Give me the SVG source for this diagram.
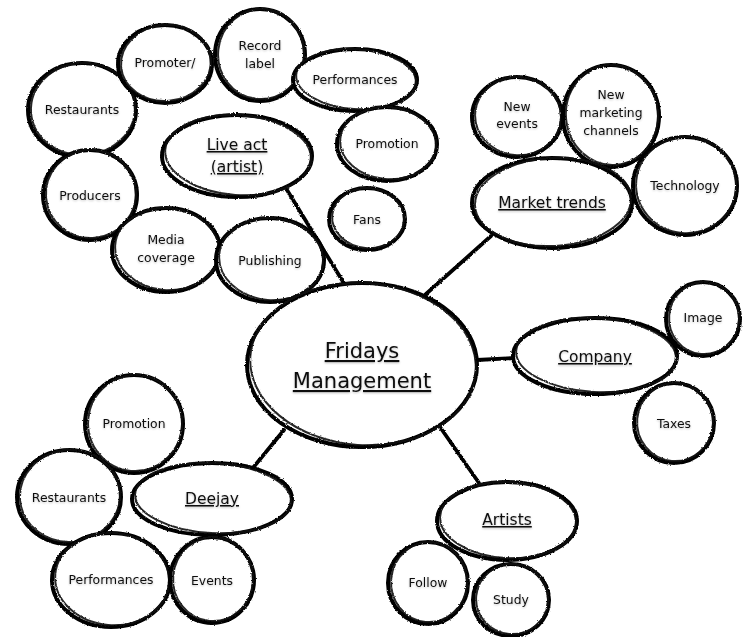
<svg xmlns="http://www.w3.org/2000/svg" width="749" height="637" viewBox="0 0 749 637">
<defs>
<filter id="rough" x="-10%" y="-10%" width="120%" height="120%">
<feTurbulence type="fractalNoise" baseFrequency="0.6" numOctaves="2" seed="3" result="n"/>
<feDisplacementMap in="SourceGraphic" in2="n" scale="2.4" xChannelSelector="R" yChannelSelector="G"/>
</filter>
<filter id="shadow" x="-10%" y="-30%" width="120%" height="160%">
<feGaussianBlur in="SourceAlpha" stdDeviation="1.2" result="b"/>
<feOffset in="b" dx="0" dy="1" result="o"/>
<feComponentTransfer in="o" result="s"><feFuncA type="linear" slope="0.25"/></feComponentTransfer>
<feMerge><feMergeNode in="s"/><feMergeNode in="SourceGraphic"/></feMerge>
</filter>
</defs>
<style>
.o{fill:#fff;stroke:#000;stroke-width:4}
.o2{fill:none;stroke:#111;stroke-width:2;opacity:.9}
.sk{filter:url(#rough)}
.t{font-family:"DejaVu Sans","Liberation Sans",sans-serif;font-size:12.4px;fill:#111;text-anchor:middle;filter:url(#shadow)}
.h{font-family:"DejaVu Sans","Liberation Sans",sans-serif;font-size:15.5px;fill:#111;text-anchor:middle;text-decoration:underline;filter:url(#shadow)}
.big{font-size:21px}
.c{stroke:#000;stroke-width:3.8;stroke-linecap:round;fill:none}
</style>
<rect width="749" height="637" fill="#fff"/>
<g id="connectors" class="sk">
<path class="c" d="M287 190 L345 285"/>
<path class="c" d="M491 236 L426 294"/>
<path class="c" d="M477 360 L516 358"/>
<path class="c" d="M284 430 L252 469"/>
<path class="c" d="M440 427 L479 483"/>
</g>
<g id="restaurants1"><g class="sk"><ellipse class="o" cx="82" cy="110" rx="54" ry="47"/><ellipse class="o2" cx="83" cy="109" rx="52" ry="46" transform="rotate(-4 82 110)"/></g><text class="t" x="82" y="114">Restaurants</text></g>
<g id="promoter"><g class="sk"><ellipse class="o" cx="165" cy="64" rx="47" ry="39"/><ellipse class="o2" cx="166" cy="63" rx="45" ry="38" transform="rotate(-5 165 64)"/></g><text class="t" x="165" y="67">Promoter/</text></g>
<g id="recordlabel"><g class="sk"><ellipse class="o" cx="260" cy="55" rx="45" ry="46"/><ellipse class="o2" cx="261" cy="54" rx="43" ry="45" transform="rotate(6 260 55)"/></g><text class="t" x="260" y="50">Record</text><text class="t" x="260" y="68">label</text></g>
<g id="performances1"><g class="sk"><ellipse class="o" cx="355" cy="80" rx="62" ry="31"/><ellipse class="o2" cx="356" cy="79" rx="60" ry="30" transform="rotate(4 355 80)"/></g><text class="t" x="355" y="84">Performances</text></g>
<g id="promotion1"><g class="sk"><ellipse class="o" cx="387" cy="144" rx="50" ry="37"/><ellipse class="o2" cx="388" cy="143" rx="48" ry="36" transform="rotate(5 387 144)"/></g><text class="t" x="387" y="148">Promotion</text></g>
<g id="liveact"><g class="sk"><ellipse class="o" cx="237" cy="156" rx="75" ry="41"/><ellipse class="o2" cx="238" cy="155" rx="73" ry="40" transform="rotate(4 237 156)"/></g><text class="h" x="237" y="150">Live act</text><text class="h" x="237" y="172">(artist)</text></g>
<g id="producers"><g class="sk"><ellipse class="o" cx="90" cy="195" rx="47" ry="45"/><ellipse class="o2" cx="91" cy="194" rx="45" ry="44" transform="rotate(-5 90 195)"/></g><text class="t" x="90" y="200">Producers</text></g>
<g id="fans"><g class="sk"><ellipse class="o" cx="367" cy="219" rx="38" ry="31"/><ellipse class="o2" cx="368" cy="218" rx="36" ry="30" transform="rotate(5 367 219)"/></g><text class="t" x="367" y="224">Fans</text></g>
<g id="mediacoverage"><g class="sk"><ellipse class="o" cx="166" cy="250" rx="54" ry="42"/><ellipse class="o2" cx="167" cy="249" rx="52" ry="41" transform="rotate(5 166 250)"/></g><text class="t" x="166" y="244">Media</text><text class="t" x="166" y="262">coverage</text></g>
<g id="publishing"><g class="sk"><ellipse class="o" cx="270" cy="260" rx="54" ry="42"/><ellipse class="o2" cx="271" cy="259" rx="52" ry="41" transform="rotate(5 270 260)"/></g><text class="t" x="270" y="265">Publishing</text></g>
<g id="newevents"><g class="sk"><ellipse class="o" cx="517" cy="117" rx="45" ry="40"/><ellipse class="o2" cx="518" cy="116" rx="43" ry="39" transform="rotate(5 517 117)"/></g><text class="t" x="517" y="111">New</text><text class="t" x="517" y="128">events</text></g>
<g id="newmarketing"><g class="sk"><ellipse class="o" cx="611" cy="116" rx="48" ry="51"/><ellipse class="o2" cx="612" cy="115" rx="46" ry="50" transform="rotate(-5 611 116)"/></g><text class="t" x="611" y="99">New</text><text class="t" x="611" y="117">marketing</text><text class="t" x="611" y="135">channels</text></g>
<g id="technology"><g class="sk"><ellipse class="o" cx="685" cy="186" rx="52" ry="49"/><ellipse class="o2" cx="686" cy="185" rx="50" ry="48" transform="rotate(5 685 186)"/></g><text class="t" x="685" y="190">Technology</text></g>
<g id="markettrends"><g class="sk"><ellipse class="o" cx="552" cy="203" rx="80" ry="45"/><ellipse class="o2" cx="553" cy="202" rx="78" ry="44" transform="rotate(-3 552 203)"/></g><text class="h" x="552" y="208">Market trends</text></g>
<g id="fridays"><g class="sk"><ellipse class="o" cx="362" cy="365" rx="115" ry="82"/><ellipse class="o2" cx="363" cy="364" rx="113" ry="81" transform="rotate(4 362 365)"/></g><text class="h big" x="362" y="358">Fridays</text><text class="h big" x="362" y="388">Management</text></g>
<g id="company"><g class="sk"><ellipse class="o" cx="595" cy="356" rx="82" ry="38"/><ellipse class="o2" cx="596" cy="355" rx="80" ry="37" transform="rotate(3 595 356)"/></g><text class="h" x="595" y="362">Company</text></g>
<g id="image"><g class="sk"><ellipse class="o" cx="703" cy="319" rx="37" ry="37"/><ellipse class="o2" cx="704" cy="318" rx="35" ry="36" transform="rotate(5 703 319)"/></g><text class="t" x="703" y="322">Image</text></g>
<g id="taxes"><g class="sk"><ellipse class="o" cx="674" cy="423" rx="40" ry="40"/><ellipse class="o2" cx="675" cy="422" rx="38" ry="39" transform="rotate(5 674 423)"/></g><text class="t" x="674" y="428">Taxes</text></g>
<g id="promotion2"><g class="sk"><ellipse class="o" cx="134" cy="424" rx="49" ry="49"/><ellipse class="o2" cx="135" cy="423" rx="47" ry="48" transform="rotate(5 134 424)"/></g><text class="t" x="134" y="428">Promotion</text></g>
<g id="restaurants2"><g class="sk"><ellipse class="o" cx="69" cy="497" rx="52" ry="47"/><ellipse class="o2" cx="70" cy="496" rx="50" ry="46" transform="rotate(-5 69 497)"/></g><text class="t" x="69" y="502">Restaurants</text></g>
<g id="deejay"><g class="sk"><ellipse class="o" cx="212" cy="499" rx="80" ry="36"/><ellipse class="o2" cx="213" cy="498" rx="78" ry="35" transform="rotate(3 212 499)"/></g><text class="h" x="212" y="504">Deejay</text></g>
<g id="performances2"><g class="sk"><ellipse class="o" cx="111" cy="580" rx="59" ry="47"/><ellipse class="o2" cx="112" cy="579" rx="57" ry="46" transform="rotate(5 111 580)"/></g><text class="t" x="111" y="584">Performances</text></g>
<g id="events"><g class="sk"><ellipse class="o" cx="212" cy="580" rx="42" ry="43"/><ellipse class="o2" cx="213" cy="579" rx="40" ry="42" transform="rotate(5 212 580)"/></g><text class="t" x="212" y="585">Events</text></g>
<g id="artists"><g class="sk"><ellipse class="o" cx="507" cy="521" rx="70" ry="39"/><ellipse class="o2" cx="508" cy="520" rx="68" ry="38" transform="rotate(3 507 521)"/></g><text class="h" x="507" y="525">Artists</text></g>
<g id="follow"><g class="sk"><ellipse class="o" cx="428" cy="583" rx="40" ry="41"/><ellipse class="o2" cx="429" cy="582" rx="38" ry="40" transform="rotate(5 428 583)"/></g><text class="t" x="428" y="587">Follow</text></g>
<g id="study"><g class="sk"><ellipse class="o" cx="511" cy="600" rx="38" ry="36"/><ellipse class="o2" cx="512" cy="599" rx="36" ry="35" transform="rotate(5 511 600)"/></g><text class="t" x="511" y="604">Study</text></g>
</svg>
